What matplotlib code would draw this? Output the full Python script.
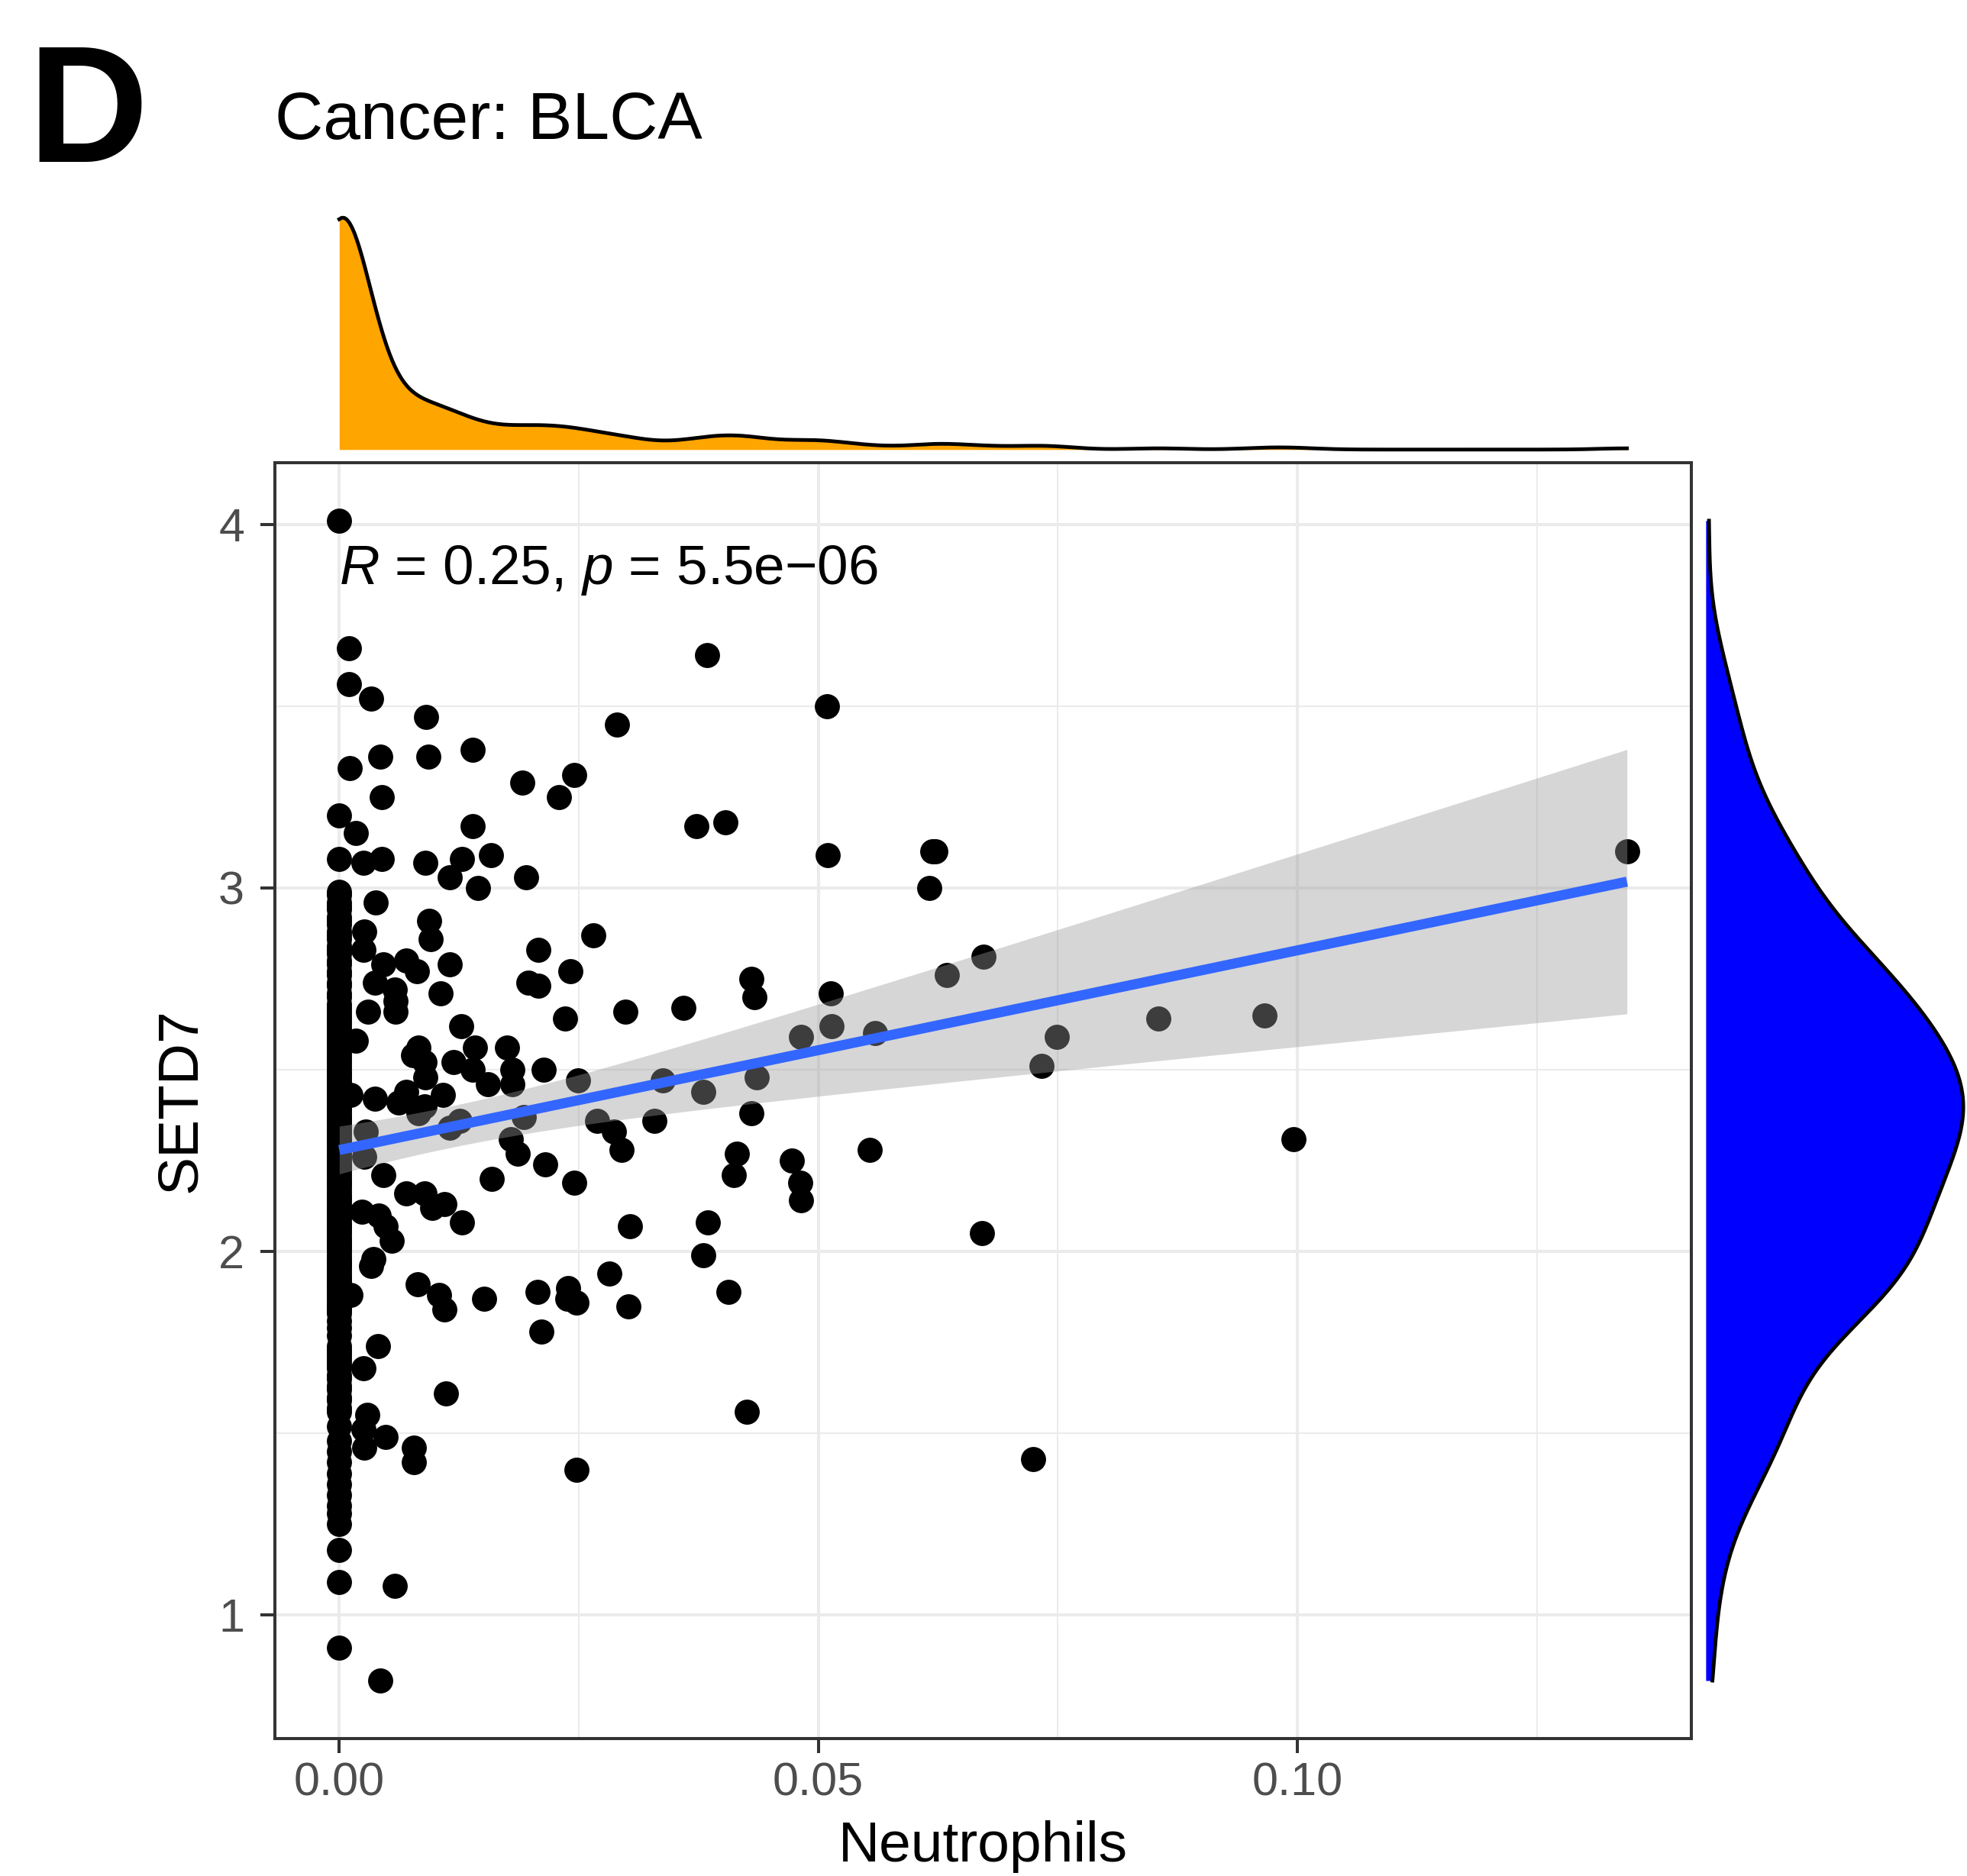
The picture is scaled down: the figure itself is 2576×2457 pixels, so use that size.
import numpy as np
import matplotlib.pyplot as plt

plt.rcParams['font.family'] = ['Liberation Sans', 'DejaVu Sans']
plt.rcParams['mathtext.fontset'] = 'custom'
plt.rcParams['mathtext.rm'] = 'Liberation Sans'
plt.rcParams['mathtext.it'] = 'Liberation Sans:italic'

# SETD7 values of the samples with Neutrophils = 0 (the dense column)
col_y = [0.91, 1.09, 1.18,
         1.25, 1.28, 1.30, 1.33, 1.36, 1.39, 1.42, 1.45, 1.48,
         1.52, 1.56, 1.57, 1.59, 1.60, 1.62, 1.63, 1.65,
         1.66, 1.68, 1.69, 1.70, 1.71, 1.72, 1.73, 1.74,
         1.77, 1.79, 1.81, 1.83, 1.84, 1.84, 1.85,
         1.85, 1.86, 1.87, 1.88, 1.89, 1.90, 1.91, 1.91, 1.92, 1.92, 1.93, 1.94,
         1.95, 1.96, 1.96, 1.97, 1.97, 1.98, 1.99,
         2.00, 2.01, 2.01, 2.02, 2.03, 2.03, 2.04, 2.05, 2.06,
         2.07, 2.07, 2.08, 2.09, 2.10, 2.11, 2.11, 2.12, 2.13,
         2.14, 2.15, 2.15, 2.16, 2.17, 2.18, 2.19, 2.19,
         2.20, 2.21, 2.22, 2.23, 2.23, 2.24, 2.24,
         2.25, 2.26, 2.27, 2.28, 2.29, 2.30, 2.31, 2.31, 2.32, 2.33, 2.33, 2.34,
         2.35, 2.36, 2.36, 2.37, 2.37, 2.38, 2.39, 2.39, 2.40, 2.41, 2.42, 2.43,
         2.43, 2.44, 2.45, 2.46, 2.46, 2.47, 2.48, 2.49, 2.49,
         2.50, 2.51, 2.52, 2.53, 2.54, 2.55, 2.56, 2.57, 2.58, 2.59, 2.60,
         2.61, 2.62, 2.63, 2.64, 2.65, 2.66, 2.67, 2.68, 2.70, 2.71, 2.73, 2.74,
         2.76, 2.77, 2.79, 2.80, 2.82, 2.83, 2.84, 2.86, 2.87, 2.88,
         2.90, 2.91, 2.92, 2.94, 2.95, 2.96, 2.98, 2.99,
         3.08, 3.20, 4.01]

# remaining samples: Neutrophils fraction and SETD7 expression
neut_x = [0.0010, 0.0010, 0.0033, 0.0091, 0.0290, 0.0011, 0.0043, 0.0093, 0.0139, 0.0044,
          0.0191, 0.0229, 0.0245, 0.0139, 0.0017, 0.0025, 0.0044, 0.0090, 0.0115, 0.0128,
          0.0158, 0.0145, 0.0195, 0.0038, 0.0094, 0.0095, 0.0026, 0.0025, 0.0208, 0.0265,
          0.0115, 0.0046, 0.0070, 0.0081, 0.0037, 0.0058, 0.0106, 0.0241, 0.0197, 0.0208,
          0.0030, 0.0059, 0.0059, 0.0127, 0.0236, 0.0299, 0.0017, 0.0083, 0.0077, 0.0089,
          0.0142, 0.0175, 0.0119, 0.0139, 0.0181, 0.0213, 0.0090, 0.0155, 0.0181, 0.0037,
          0.0062, 0.0070, 0.0108, 0.0089, 0.0083, 0.0126, 0.0115, 0.0249, 0.0193, 0.0269,
          0.0287, 0.0295, 0.0329, 0.0338, 0.0028, 0.0026, 0.0179, 0.0186, 0.0215, 0.0046,
          0.0159, 0.0245, 0.0070, 0.0089, 0.0024, 0.0041, 0.0048, 0.0055, 0.0097, 0.0110,
          0.0128, 0.0303, 0.0036, 0.0033, 0.0012, 0.0082, 0.0104, 0.0110, 0.0151, 0.0207,
          0.0239, 0.0248, 0.0238, 0.0282, 0.0302, 0.0211, 0.0040, 0.0025, 0.0111, 0.0029,
          0.0026, 0.0048, 0.0078, 0.0078, 0.0248, 0.0025, 0.0058, 0.0043, 0.0012,
          0.0384, 0.0509, 0.0373, 0.0403, 0.0510, 0.0619, 0.0622, 0.0616, 0.0672, 0.0359,
          0.0430, 0.0433, 0.0513, 0.0634, 0.0380, 0.0436, 0.0482, 0.0514, 0.0559, 0.0430,
          0.0415, 0.0412, 0.0472, 0.0481, 0.0482, 0.0554, 0.0385, 0.0380, 0.0406, 0.0671,
          0.1344, 0.0855, 0.0966, 0.0749, 0.0733, 0.0996, 0.0425, 0.0724]
setd7_y = [3.66, 3.56, 3.52, 3.47, 3.45, 3.33, 3.36, 3.36, 3.38, 3.25,
           3.29, 3.25, 3.31, 3.17, 3.15, 3.07, 3.08, 3.07, 3.03, 3.08,
           3.09, 3.00, 3.03, 2.96, 2.91, 2.86, 2.88, 2.83, 2.83, 2.87,
           2.79, 2.79, 2.80, 2.77, 2.74, 2.72, 2.71, 2.77, 2.74, 2.73,
           2.66, 2.66, 2.69, 2.62, 2.64, 2.66, 2.58, 2.56, 2.54, 2.52,
           2.56, 2.56, 2.52, 2.50, 2.50, 2.50, 2.48, 2.46, 2.46, 2.42,
           2.41, 2.44, 2.43, 2.40, 2.38, 2.36, 2.34, 2.47, 2.37, 2.36,
           2.33, 2.28, 2.36, 2.47, 2.33, 2.26, 2.31, 2.27, 2.24, 2.21,
           2.20, 2.19, 2.16, 2.16, 2.11, 2.10, 2.07, 2.03, 2.12, 2.13,
           2.08, 2.07, 1.98, 1.96, 1.88, 1.91, 1.88, 1.84, 1.87, 1.89,
           1.90, 1.86, 1.87, 1.94, 1.85, 1.78, 1.74, 1.68, 1.61, 1.55,
           1.46, 1.49, 1.46, 1.42, 1.40, 1.51, 1.08, 0.82, 2.43,
           3.64, 3.50, 3.17, 3.18, 3.09, 3.10, 3.10, 3.00, 2.81, 2.67,
           2.75, 2.70, 2.71, 2.76, 2.44, 2.48, 2.59, 2.62, 2.60, 2.38,
           2.27, 2.21, 2.25, 2.19, 2.14, 2.28, 2.08, 1.99, 1.89, 2.05,
           3.10, 2.64, 2.65, 2.59, 2.51, 2.31, 1.56, 1.43]

x_ticks = [0.00, 0.05, 0.10]
x_tick_labels = ['0.00', '0.05', '0.10']
y_ticks = [1, 2, 3, 4]
stat_label = r'$\mathit{R}$ = 0.25, $\mathit{p}$ = 5.5e−06'


def bw_nrd0(v):
    q75, q25 = np.percentile(v, [75, 25])
    lo = min(np.std(v, ddof=1), (q75 - q25) / 1.34)
    return 0.9 * lo * len(v) ** -0.2


def density(v):
    grid = np.linspace(v.min(), v.max(), 512)
    bw = bw_nrd0(v)
    d = np.exp(-0.5 * ((grid[:, None] - v[None, :]) / bw) ** 2).sum(axis=1)
    return grid, d / (len(v) * bw * np.sqrt(2 * np.pi))


x = np.concatenate([np.zeros(len(col_y)), neut_x])
y = np.concatenate([col_y, setd7_y])
n = len(x)

# linear fit with 95% confidence band
slope, intercept = np.polyfit(x, y, 1)
fx = np.linspace(x.min(), x.max(), 100)
fy = intercept + slope * fx
resid = y - (intercept + slope * x)
s = np.sqrt(np.sum(resid ** 2) / (n - 2))
sxx = np.sum((x - x.mean()) ** 2)
se = s * np.sqrt(1 / n + (fx - x.mean()) ** 2 / sxx)
t_crit = 1.9675

W, H = 2576, 2457
fig = plt.figure(figsize=(W / 100, H / 100), dpi=100)
ax = fig.add_axes([360 / W, 1 - 2277 / H, 1855 / W, 1671 / H])
ax_top = fig.add_axes([360 / W, 1 - 604 / H, 1855 / W, 334 / H])
ax_right = fig.add_axes([2217 / W, 1 - 2277 / H, 371 / W, 1671 / H])

xr = x.max() - x.min()
yr = y.max() - y.min()
xlim = (x.min() - 0.05 * xr, x.max() + 0.05 * xr)
ylim = (y.min() - 0.05 * yr, y.max() + 0.05 * yr)

ax.scatter(x, y, s=560, c='black', linewidths=0, zorder=2)
ax.fill_between(fx, fy - t_crit * se, fy + t_crit * se, color='#999999', alpha=0.4,
                linewidth=0, zorder=3)
ax.plot(fx, fy, color='#3366FF', lw=9.5, zorder=4, solid_capstyle='butt')

ax.set_xlim(*xlim)
ax.set_ylim(*ylim)
ax.set_xticks(x_ticks)
ax.set_xticklabels(x_tick_labels)
ax.set_yticks(y_ticks)
ax.set_xticks([0.025, 0.075, 0.125], minor=True)
ax.set_yticks([1.5, 2.5, 3.5], minor=True)
ax.set_axisbelow(True)
ax.grid(which='major', color='#EBEBEB', lw=2.9)
ax.grid(which='minor', color='#EBEBEB', lw=1.45)
ax.tick_params(which='major', length=13.7, width=2.9, color='#333333',
               labelcolor='#4D4D4D', labelsize=44)
ax.tick_params(axis='x', pad=8)
ax.tick_params(axis='y', pad=15)
ax.tick_params(which='minor', length=0)
for sp in ax.spines.values():
    sp.set_color('#333333')
    sp.set_linewidth(2.9)
ax.set_xlabel('Neutrophils', fontsize=54, labelpad=14)
ax.set_ylabel('SETD7', fontsize=54, labelpad=11)
ax.text(0, 3.836, stat_label, fontsize=52.5, va='baseline', ha='left', zorder=5)

# marginal densities
gx, dx = density(x)
ax_top.fill_between(gx, 0, dx, color='#FFA500', linewidth=0)
ax_top.plot(gx, dx, color='black', lw=3.5)
ax_top.set_xlim(*xlim)
ax_top.set_ylim(-0.05 * dx.max(), 1.05 * dx.max())
ax_top.axis('off')

gy, dy = density(y)
ax_right.fill_betweenx(gy, 0, dy, color='#0000FF', linewidth=0)
ax_right.plot(dy, gy, color='black', lw=3.5)
ax_right.set_ylim(*ylim)
ax_right.set_xlim(-0.05 * dy.max(), 1.05 * dy.max())
ax_right.axis('off')

fig.text(360 / W, 1 - 182 / H, 'Cancer: BLCA', fontsize=63, va='baseline', ha='left')
fig.text(36 / W, 1 - 212 / H, 'D', fontsize=157, fontweight='bold', va='baseline', ha='left')

fig.savefig('out.png', dpi=100)
